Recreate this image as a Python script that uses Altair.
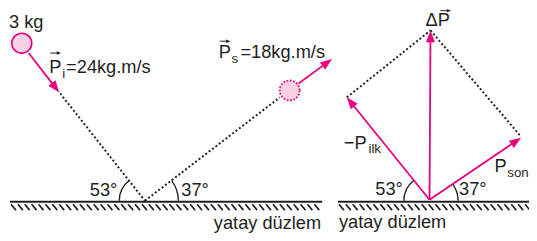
import altair as alt
import pandas as pd
import numpy as np

MAG = "#e6007e"
FILL = "#f8d2e3"
INK = "#231f20"
FONT = "Liberation Sans"

W, H = 529, 225
X0, Y0 = 8, 8

# momentum vectors (tail -> tip), picture pixels
arrow_x1 = [29, 303, 436, 436, 436]
arrow_y1 = [52, 83, 201, 201, 201]
arrow_x2 = [60, 337, 352, 529, 437]
arrow_y2 = [92, 58, 97, 138, 29]

# small vector arrows over the P labels
lab_x1 = [51, 223, 447]
lab_y1 = [52, 40, 9]
lab_x2 = [62, 234, 458]
lab_y2 = [52, 40, 9]

# dotted guide lines
dot_x1 = [61, 147, 352, 437]
dot_y1 = [93, 202, 97, 29]
dot_x2 = [147, 284, 437, 529]
dot_y2 = [202, 97, 29, 137]

# balls
ball_x = [22, 294]
ball_y = [42, 90]
ball_kind = ["solid", "dotted"]

# ground
ground_x1 = [10, 343]
ground_x2 = [327, 537]
ground_y = [203, 203]

# angle arcs (degrees, clockwise from 12 o'clock)
arc_x = [147, 147, 436, 436]
arc_y = [202, 202, 202, 202]
arc_r = [26, 34, 26, 29]
arc_from = [270, 53, 270, 53]
arc_to = [323, 90, 323, 90]

# texts
txt = ["3 kg", "P", "i", "=24kg.m/s", "P", "s", "=18kg.m/s", "53°", "37°", "yatay düzlem",
       "ΔP", "−P", "ilk", "P", "son", "53°", "37°", "yatay düzlem"]
txt_x = [9, 50, 63, 67, 222, 235, 244, 91, 184, 217,
         432, 349, 374, 502, 515, 381, 466, 344]
txt_y = [27, 72, 77, 72, 57, 62, 57, 197, 197, 231,
         25, 149, 154, 173, 178, 196, 196, 230]
txt_s = [18.5, 18.5, 13.5, 18.5, 18.5, 13.5, 18.5, 18.5, 18.5, 18.5,
         18.5, 18.5, 13.5, 18.5, 13.5, 18.5, 18.5, 18.5]

# ---------------------------------------------------------------------------
xs = alt.Scale(domain=[X0, X0 + W], nice=False, zero=False)
ys = alt.Scale(domain=[Y0, Y0 + H], nice=False, zero=False, reverse=True)


def X(f):
    return alt.X(f, type="quantitative", scale=xs, axis=None)


def Y(f):
    return alt.Y(f, type="quantitative", scale=ys, axis=None)


def build_arrows(x1, y1, x2, y2, color, width, head):
    x1, y1, x2, y2 = map(np.asarray, (x1, y1, x2, y2))
    dx, dy = x2 - x1, y2 - y1
    L = np.hypot(dx, dy)
    ux, uy = dx / L, dy / L
    lines = pd.DataFrame({"x": x1, "y": y1,
                          "x2": x2 - ux * head * 0.7, "y2": y2 - uy * head * 0.7,
                          "c": color, "w": width})
    heads = pd.DataFrame({"x": x2, "y": y2,
                          "ang": (np.degrees(np.arctan2(dx, -dy)) + 360) % 360,
                          "c": color, "s": head ** 2})
    return lines, heads


l1, h1 = build_arrows(arrow_x1, arrow_y1, arrow_x2, arrow_y2, MAG, 1.8, 12.0)
l2, h2 = build_arrows(lab_x1, lab_y1, lab_x2, lab_y2, INK, 1.0, 4.5)
lines_df = pd.concat([l1, l2], ignore_index=True)
heads_df = pd.concat([h1, h2], ignore_index=True)

dots_df = pd.DataFrame({"x": dot_x1, "y": dot_y1, "x2": dot_x2, "y2": dot_y2})
ground_df = pd.DataFrame({"x": ground_x1, "x2": ground_x2, "y": ground_y})

hx = np.concatenate([np.arange(11, 323, 7.0), np.arange(344, 537, 7.0)])
hatch_df = pd.DataFrame({"x": hx, "y": 205.5, "x2": hx + 5, "y2": 211.5})

arc_df = pd.DataFrame({"x": arc_x, "y": arc_y,
                       "t1": np.radians(arc_from), "t2": np.radians(arc_to),
                       "ro": np.array(arc_r) + 0.7, "ri": np.array(arc_r) - 0.7})
ball_df = pd.DataFrame({"x": ball_x, "y": ball_y, "k": ball_kind})
text_df = pd.DataFrame({"x": txt_x, "y": txt_y, "t": txt, "s": txt_s})

hatch = alt.Chart(hatch_df).mark_rule(color=INK, strokeWidth=1.7).encode(
    x=X("x"), y=Y("y"), x2="x2", y2="y2")
ground = alt.Chart(ground_df).mark_rule(color=INK, strokeWidth=1.9).encode(
    x=X("x"), x2="x2", y=Y("y"))
dots = alt.Chart(dots_df).mark_rule(color=INK, strokeWidth=2.0, strokeDash=[2, 2.3]).encode(
    x=X("x"), y=Y("y"), x2="x2", y2="y2")
arcs = alt.Chart(arc_df).mark_arc(color=INK).encode(
    x=X("x"), y=Y("y"),
    theta=alt.Theta("t1:Q", scale=None), theta2=alt.Theta2("t2"),
    radius=alt.Radius("ro:Q", scale=None), radius2=alt.Radius2("ri"))
ball_solid = alt.Chart(ball_df).transform_filter(alt.datum.k == "solid").mark_point(
    shape="circle", filled=True, fill=FILL, stroke=MAG, strokeWidth=1.6, size=410, opacity=1
).encode(x=X("x"), y=Y("y"))
ball_dot = alt.Chart(ball_df).transform_filter(alt.datum.k == "dotted").mark_point(
    shape="circle", filled=True, fill=FILL, stroke=MAG, strokeWidth=1.8, strokeDash=[1.8, 1.6],
    size=410, opacity=1
).encode(x=X("x"), y=Y("y"))
vec_lines = alt.Chart(lines_df).mark_rule().encode(
    x=X("x"), y=Y("y"), x2="x2", y2="y2",
    color=alt.Color("c:N", scale=None), strokeWidth=alt.StrokeWidth("w:Q", scale=None))
vec_heads = alt.Chart(heads_df).mark_point(
    shape="M0,0 L0.75,2 L-0.75,2 Z", filled=True, opacity=1, strokeWidth=0
).encode(x=X("x"), y=Y("y"), angle=alt.Angle("ang:Q", scale=None),
         color=alt.Color("c:N", scale=None), size=alt.Size("s:Q", scale=None))
texts = alt.Chart(text_df).mark_text(
    align="left", baseline="alphabetic", font=FONT, color=INK
).encode(x=X("x"), y=Y("y"), text="t:N", size=alt.Size("s:Q", scale=None))

chart = alt.layer(hatch, ground, dots, arcs, vec_lines, vec_heads, ball_solid, ball_dot, texts).properties(
    width=W, height=H, padding=0, autosize=alt.AutoSizeParams(type="none"),
    background="white"
).configure_view(stroke=None)

chart.save("out.html", embed_options={"renderer": "svg", "actions": False})
